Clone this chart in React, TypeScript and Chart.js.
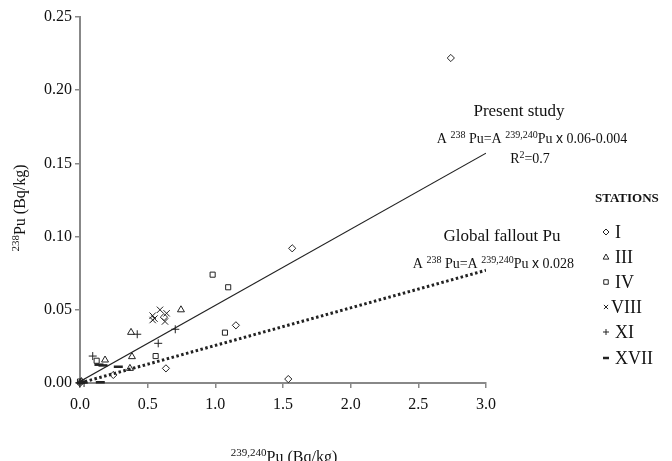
import React, { useEffect, useRef } from "react";
import { Chart, registerables } from "chart.js";

Chart.register(...registerables);

// ---- data ----
const stationNames = ["I", "III", "IV", "VIII", "XI", "XVII"];
const stationI = [
  { x: 0.246, y: 0.0055 }, { x: 0.635, y: 0.010 }, { x: 1.152, y: 0.0394 },
  { x: 1.568, y: 0.092 }, { x: 1.539, y: 0.0027 }, { x: 2.74, y: 0.222 },
  { x: 0.62, y: 0.045 }, { x: 0.0, y: 0.0 },
];
const stationIII = [
  { x: 0.746, y: 0.050 }, { x: 0.377, y: 0.0346 }, { x: 0.384, y: 0.018 },
  { x: 0.185, y: 0.0157 }, { x: 0.369, y: 0.010 }, { x: 0.01, y: 0.001 },
];
const stationIV = [
  { x: 1.095, y: 0.0654 }, { x: 1.071, y: 0.0344 }, { x: 0.98, y: 0.074 },
  { x: 0.559, y: 0.0184 }, { x: 0.123, y: 0.0152 }, { x: 0.0, y: 0.001 },
];
const stationVIII = [
  { x: 0.537, y: 0.043 }, { x: 0.537, y: 0.046 }, { x: 0.591, y: 0.050 },
  { x: 0.64, y: 0.0476 }, { x: 0.628, y: 0.042 }, { x: 0.55, y: 0.044 },
];
const stationXI = [
  { x: 0.094, y: 0.0184 }, { x: 0.423, y: 0.0333 }, { x: 0.704, y: 0.0367 },
  { x: 0.578, y: 0.0271 }, { x: 0.0, y: 0.0 }, { x: 0.03, y: 0.0 },
];
const stationXVII = [
  { x: 0.14, y: 0.0125 }, { x: 0.17, y: 0.012 }, { x: 0.283, y: 0.0111 },
  { x: 0.15, y: 0.0005 }, { x: 0.02, y: 0.0005 },
];
const presentStudyLine = [{ x: 0, y: 0.001 }, { x: 3, y: 0.157 }];
const globalFalloutLine = [{ x: 0, y: 0.0 }, { x: 3, y: 0.077 }];
const xTicks = [0, 0.5, 1, 1.5, 2, 2.5, 3];
const yTicks = [0, 0.05, 0.1, 0.15, 0.2, 0.25];

const INK = "#222";
const SERIF = "'Liberation Serif', 'DejaVu Serif', serif";

type Seg = { t: string; sup?: boolean; sans?: boolean };

function drawRich(ctx: CanvasRenderingContext2D, segs: Seg[], x: number, y: number, size: number, align: "left" | "center" | "right") {
  const supSize = Math.round(size * 0.7);
  const fontFor = (s: Seg) =>
    `${s.sup ? supSize : size}px ${s.sans ? "'Liberation Sans', Arial, sans-serif" : SERIF}`;
  let total = 0;
  for (const s of segs) { ctx.font = fontFor(s); total += ctx.measureText(s.t).width; }
  let cx = align === "left" ? x : align === "center" ? x - total / 2 : x - total;
  ctx.textAlign = "left";
  ctx.textBaseline = "alphabetic";
  for (const s of segs) {
    ctx.font = fontFor(s);
    ctx.fillText(s.t, cx, s.sup ? y - size * 0.38 : y);
    cx += ctx.measureText(s.t).width;
  }
}

function drawMarker(ctx: CanvasRenderingContext2D, style: string, x: number, y: number, r: number) {
  ctx.beginPath();
  if (style === "rectRot") {
    ctx.moveTo(x, y - r); ctx.lineTo(x + r, y); ctx.lineTo(x, y + r); ctx.lineTo(x - r, y); ctx.closePath();
  } else if (style === "triangle") {
    ctx.moveTo(x, y - r); ctx.lineTo(x + r * 0.95, y + r * 0.7); ctx.lineTo(x - r * 0.95, y + r * 0.7); ctx.closePath();
  } else if (style === "rect") {
    ctx.rect(x - r * 0.75, y - r * 0.75, r * 1.5, r * 1.5);
  } else if (style === "crossRot") {
    const d = r * 0.7;
    ctx.moveTo(x - d, y - d); ctx.lineTo(x + d, y + d); ctx.moveTo(x + d, y - d); ctx.lineTo(x - d, y + d);
  } else if (style === "cross") {
    ctx.moveTo(x - r, y); ctx.lineTo(x + r, y); ctx.moveTo(x, y - r); ctx.lineTo(x, y + r);
  } else {
    ctx.moveTo(x - r, y); ctx.lineTo(x + r, y);
  }
  ctx.stroke();
}

const textPlugin = {
  id: "annotText",
  afterDraw(chart: any) {
    const ctx: CanvasRenderingContext2D = chart.ctx;
    ctx.save();
    ctx.fillStyle = "#111";
    // annotations
    ctx.font = `17px ${SERIF}`;
    ctx.textAlign = "center";
    ctx.textBaseline = "middle";
    ctx.fillText("Present study", 519, 112);
    drawRich(ctx, [
      { t: "A " }, { t: "238", sup: true }, { t: " Pu=A " }, { t: "239,240", sup: true },
      { t: "Pu " }, { t: "x", sans: true }, { t: " 0.06-0.004" },
    ], 532, 143, 14, "center");
    drawRich(ctx, [{ t: "R" }, { t: "2", sup: true }, { t: "=0.7" }], 530, 163, 14, "center");
    ctx.font = `17px ${SERIF}`;
    ctx.textAlign = "center";
    ctx.textBaseline = "middle";
    ctx.fillText("Global fallout Pu", 502, 237);
    drawRich(ctx, [
      { t: "A " }, { t: "238", sup: true }, { t: " Pu=A " }, { t: "239,240", sup: true },
      { t: "Pu " }, { t: "x", sans: true }, { t: " 0.028" },
    ], 574, 268, 14, "right");

    // legend
    ctx.font = `bold 13px ${SERIF}`;
    ctx.textAlign = "left";
    ctx.textBaseline = "middle";
    ctx.fillText("STATIONS", 595, 199);
    const rows = [232, 257, 282, 307, 332, 358];
    const styles = ["rectRot", "triangle", "rect", "crossRot", "cross", "line"];
    stationNames.forEach((name, i) => {
      const y = rows[i];
      ctx.strokeStyle = INK;
      ctx.lineWidth = styles[i] === "line" ? 2.5 : 1;
      drawMarker(ctx, styles[i], 606, y, 3);
      ctx.fillStyle = "#111";
      ctx.font = `18px ${SERIF}`;
      ctx.textAlign = "left";
      ctx.textBaseline = "middle";
      ctx.fillText(name, name === "VIII" ? 611 : 615, y + 1);
    });

    // axis titles
    ctx.fillStyle = "#111";
    drawRich(ctx, [{ t: "239,240", sup: true }, { t: "Pu (Bq/kg)" }], 284, 462, 16, "center");
    ctx.translate(25, 208);
    ctx.rotate(-Math.PI / 2);
    drawRich(ctx, [{ t: "238", sup: true }, { t: "Pu (Bq/kg)" }], 0, 0, 16, "center");
    ctx.restore();
  },
};

function scatter(label: string, data: any[], style: string, extra: any = {}) {
  return {
    type: "scatter" as const,
    label,
    data,
    pointStyle: style,
    pointRadius: 3.6,
    pointBorderWidth: 1,
    pointBorderColor: INK,
    pointBackgroundColor: "rgba(255,255,255,0)",
    showLine: false,
    clip: false,
    ...extra,
  };
}

export default function App() {
  const ref = useRef<HTMLCanvasElement>(null);
  useEffect(() => {
    document.body.style.margin = "0";
    const chart = new Chart(ref.current!, {
      type: "scatter",
      data: {
        datasets: [
          {
            type: "line",
            label: "Present study",
            data: presentStudyLine,
            borderColor: INK,
            borderWidth: 1.2,
            pointRadius: 0,
            fill: false,
          } as any,
          {
            type: "line",
            label: "Global fallout Pu",
            data: globalFalloutLine,
            borderColor: INK,
            borderWidth: 3,
            borderDash: [2.5, 2.5],
            pointRadius: 0,
            fill: false,
          } as any,
          scatter("I", stationI, "rectRot"),
          scatter("III", stationIII, "triangle", { pointRadius: 4 }),
          scatter("IV", stationIV, "rect", { pointRadius: 3.6 }),
          scatter("VIII", stationVIII, "crossRot", { pointRadius: 4.5 }),
          scatter("XI", stationXI, "cross", { pointRadius: 4 }),
          scatter("XVII", stationXVII, "line", { pointRadius: 4.5, pointBorderWidth: 2.5 }),
        ],
      },
      options: {
        animation: false,
        responsive: true,
        maintainAspectRatio: false,
        layout: { padding: { top: 17, right: 186, left: 0, bottom: 0 } },
        plugins: { legend: { display: false }, tooltip: { enabled: false } },
        scales: {
          x: {
            type: "linear",
            min: 0,
            max: 3,
            afterFit: (s: any) => { s.height = 78; },
            afterBuildTicks: (s: any) => { s.ticks = xTicks.map((v) => ({ value: v })); },
            ticks: {
              color: "#111",
              font: { family: SERIF, size: 16 },
              padding: 7,
              callback: (v: any) => Number(v).toFixed(1),
            },
            grid: { drawOnChartArea: false, drawTicks: true, tickLength: 5, color: "#888", lineWidth: 1.5 },
            border: { display: true, color: "#888", width: 2 },
          },
          y: {
            type: "linear",
            min: 0,
            max: 0.25,
            afterFit: (s: any) => { s.width = 80; },
            afterBuildTicks: (s: any) => { s.ticks = yTicks.map((v) => ({ value: v })); },
            ticks: {
              color: "#111",
              font: { family: SERIF, size: 16 },
              padding: 3,
              callback: (v: any) => Number(v).toFixed(2),
            },
            grid: { drawOnChartArea: false, drawTicks: true, tickLength: 5, color: "#888", lineWidth: 1.5 },
            border: { display: true, color: "#888", width: 2 },
          },
        },
      } as any,
      plugins: [textPlugin],
    });
    return () => chart.destroy();
  }, []);
  return (
    <div style={{ position: "absolute", left: 0, top: 0, width: 672, height: 461, background: "#fff" }}>
      <canvas ref={ref} />
    </div>
  );
}
